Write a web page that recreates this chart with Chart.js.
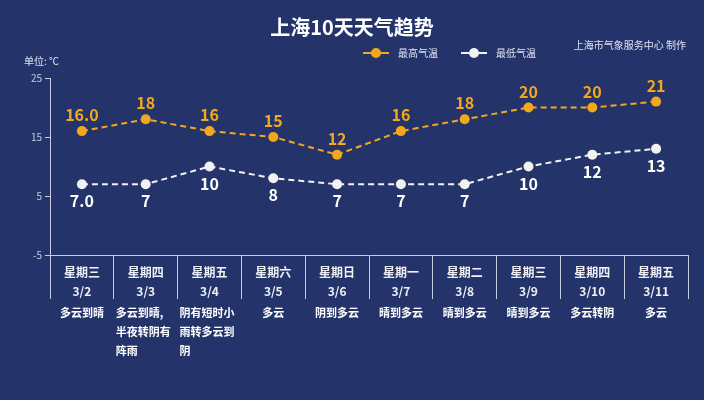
<!DOCTYPE html>
<html><head><meta charset="utf-8">
<script src="https://cdn.jsdelivr.net/npm/chart.js@4/dist/chart.umd.min.js"></script>
<style>
html,body{margin:0;background:#24346a;}
#wrap{width:704px;height:400px;}
</style></head>
<body><div id="wrap"><canvas id="c" width="704" height="400"></canvas></div>
<script>
const weekdays = ['星期三','星期四','星期五','星期六','星期日','星期一','星期二','星期三','星期四','星期五'];
const dates = ['3/2','3/3','3/4','3/5','3/6','3/7','3/8','3/9','3/10','3/11'];
const weather = [['多云到晴'],['多云到晴,','半夜转阴有','阵雨'],['阴有短时小','雨转多云到','阴'],['多云'],['阴到多云'],['晴到多云'],['晴到多云'],['晴到多云'],['多云转阴'],['多云']];
const highTemps = [16, 18, 16, 15, 12, 16, 18, 20, 20, 21];
const lowTemps = [7, 7, 10, 8, 7, 7, 7, 10, 12, 13];
const highText = ['16.0','18','16','15','12','16','18','20','20','21'];
const lowText = ['7.0','7','10','8','7','7','7','10','12','13'];

const FONT = '"Noto Sans CJK SC", "Noto Sans", sans-serif';
const ORANGE = '#f3a81c';

const decor = {
  id: 'decor',
  afterDatasetsDraw(chart) {
    const c = chart.ctx;
    const x = chart.scales.x, y = chart.scales.y;
    c.save();
    c.textAlign = 'center';
    c.textBaseline = 'middle';
    c.fillStyle = '#fff';
    c.font = 'bold 20px ' + FONT;
    c.fillText('上海10天天气趋势', 352, 27);

    // legend
    const items = [[ORANGE, '最高气温', 376], ['#f2f2f2', '最低气温', 474]];
    c.font = '10px ' + FONT;
    items.forEach(([col, txt, lx]) => {
      c.strokeStyle = col; c.lineWidth = 2;
      c.beginPath(); c.moveTo(lx - 13, 53); c.lineTo(lx + 13, 53); c.stroke();
      c.fillStyle = col; c.beginPath(); c.arc(lx, 53, 5, 0, Math.PI * 2); c.fill();
      c.fillStyle = '#dfe3f0'; c.textAlign = 'left';
      c.fillText(txt, lx + 22, 53);
    });
    c.textAlign = 'right';
    c.fillText('上海市气象服务中心 制作', 686, 45);
    c.textAlign = 'left';
    c.fillText('单位: ℃', 24, 61);

    // value labels
    c.textAlign = 'center';
    c.font = 'bold 16px ' + FONT;
    highTemps.forEach((v, i) => {
      c.fillStyle = ORANGE;
      c.fillText(highText[i], x.getPixelForValue(i), y.getPixelForValue(v) - 16);
      c.fillStyle = '#fff';
      c.fillText(lowText[i], x.getPixelForValue(i), y.getPixelForValue(lowTemps[i]) + 17);
    });

    // weekday / date under axis
    c.font = 'bold 12px ' + FONT;
    c.fillStyle = '#eef0f6';
    weekdays.forEach((w, i) => {
      const px = x.getPixelForValue(i);
      c.fillText(w, px, x.top + 17);
      c.fillText(dates[i], px, x.top + 36);
    });

    // weather descriptions
    c.font = 'bold 11px ' + FONT;
    c.fillStyle = '#fff';
    weather.forEach((lines, i) => {
      const px = x.getPixelForValue(i);
      const left = lines.length > 1;
      c.textAlign = left ? 'left' : 'center';
      lines.forEach((t, j) => {
        c.fillText(t, left ? px - 30 : px, 313 + j * 19);
      });
    });
    c.restore();
  }
};

new Chart(document.getElementById('c'), {
  type: 'line',
  data: {
    labels: weekdays.map((w, i) => w + ' ' + dates[i]),
    datasets: [
      { data: highTemps, borderColor: ORANGE, backgroundColor: ORANGE, borderDash: [6, 4], borderWidth: 2, pointRadius: 5, pointBackgroundColor: ORANGE, pointBorderWidth: 0 },
      { data: lowTemps, borderColor: '#f2f2f2', backgroundColor: '#f2f2f2', borderDash: [6, 4], borderWidth: 2, pointRadius: 5, pointBackgroundColor: '#f2f2f2', pointBorderWidth: 0 }
    ]
  },
  options: {
    responsive: false,
    animation: false,
    layout: { padding: { top: 78, right: 16, bottom: 100, left: 14 } },
    plugins: { legend: { display: false }, tooltip: { enabled: false } },
    scales: {
      x: {
        offset: true,
        border: { color: '#c8cde0', width: 1 },
        grid: { offset: true, drawOnChartArea: false, color: '#c8cde0', tickLength: 44 },
        ticks: { display: false },
        afterFit(s) { s.height = 45; }
      },
      y: {
        min: -5, max: 25,
        border: { color: '#c8cde0', width: 1 },
        grid: { drawOnChartArea: false, color: '#c8cde0', tickLength: 5 },
        ticks: { stepSize: 10, color: '#c8cde0', font: { family: FONT, size: 10 }, padding: 3 },
        afterFit(s) { s.width = 36; }
      }
    }
  },
  plugins: [decor]
});
</script></body></html>
